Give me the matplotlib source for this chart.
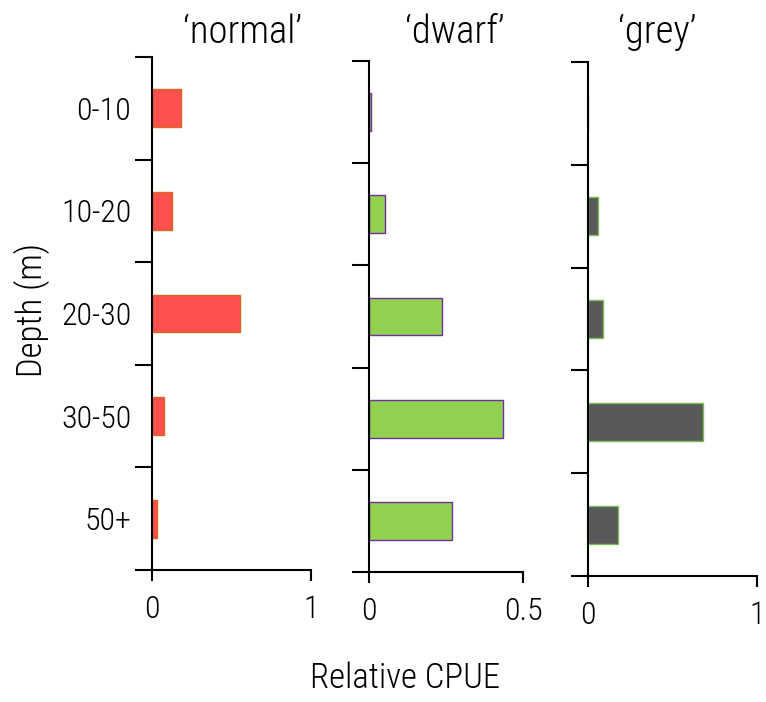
import matplotlib.pyplot as plt
import numpy as np

plt.rcParams['font.family'] = ['Roboto Condensed', 'DejaVu Sans']

depths = ['0-10', '10-20', '20-30', '30-50', '50+']
normal = [0.185, 0.128, 0.555, 0.078, 0.034]
dwarf = [0.0075, 0.053, 0.238, 0.435, 0.271]
grey = [0.0, 0.059, 0.088, 0.68, 0.176]
titles = ["\u2018normal\u2019", "\u2018dwarf\u2019", "\u2018grey\u2019"]

W, H = 766, 702
fig = plt.figure(figsize=(W / 100, H / 100), dpi=100)

# panel boxes in pixels: left, right, top, bottom
boxes = [(152, 311, 57, 570), (369, 523, 61, 572), (588, 757, 62, 576)]
series = [normal, dwarf, grey]
xmax = [1, 0.5, 1]
xticklabels = [['0', '1'], ['0', '0.5'], ['0', '1']]
faces = ['#FF5050', '#92D050', '#595959']
edges = ['#D86820', '#7030A0', '#7DBB55']
title_x = [243, 455, 657]

y = np.arange(len(depths))
for i in range(3):
    l, r, t, b = boxes[i]
    ax = fig.add_axes([l / W, 1 - b / H, (r - l) / W, (b - t) / H])
    ax.barh(y, series[i], height=0.37, color=faces[i], edgecolor=edges[i], linewidth=1)
    ax.set_xlim(0, xmax[i])
    ax.set_ylim(len(depths) - 0.5, -0.5)
    for s in ['top', 'right']:
        ax.spines[s].set_visible(False)
    for s in ['left', 'bottom']:
        ax.spines[s].set_linewidth(1.5)
    ax.set_xticks([0, xmax[i]])
    ax.set_xticklabels(xticklabels[i], fontsize=23, fontweight='light')
    ax.tick_params(axis='x', direction='out', length=8, width=1.5, pad=10)
    ax.set_yticks(np.arange(-0.5, len(depths), 1), minor=True)
    ax.tick_params(axis='y', which='minor', direction='out', length=12, width=1.5)
    ax.set_yticks(y)
    if i == 0:
        ax.set_yticklabels(depths, fontsize=23, fontweight='light')
    else:
        ax.set_yticklabels([])
    ax.tick_params(axis='y', which='major', length=0, pad=15)
    fig.text(title_x[i] / W, 1 - 32 / H, titles[i], fontsize=28, fontweight='light',
             ha='center', va='center')

fig.text(405 / W, 1 - 678 / H, 'Relative CPUE', fontsize=25, fontweight='light',
         ha='center', va='center')
fig.text(32 / W, 1 - 310 / H, 'Depth (m)', fontsize=25, fontweight='light',
         ha='center', va='center', rotation=90)

fig.savefig('out.png', dpi=100)
